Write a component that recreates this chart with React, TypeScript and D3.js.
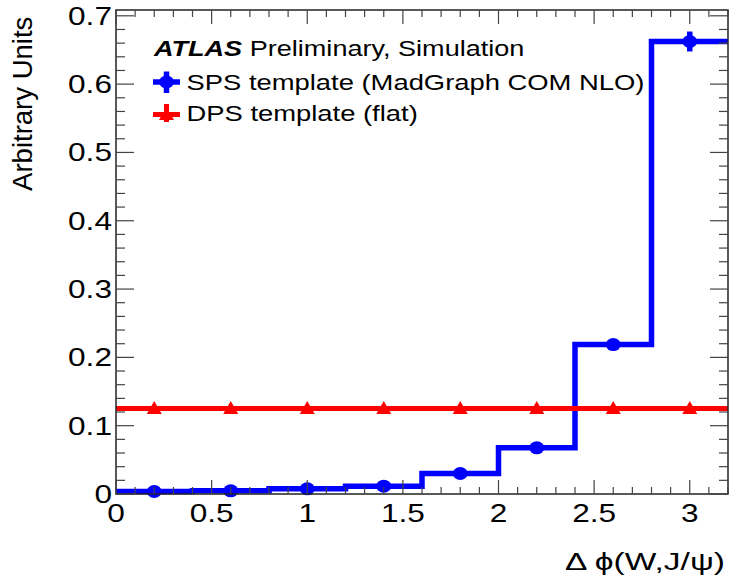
import React from "react";
import * as d3 from "d3";

const binCenters = [0.2, 0.6, 1.0, 1.4, 1.8, 2.2, 2.6, 3.0];
const binWidth = 0.4;
const spsValues = [0.0037, 0.0047, 0.0076, 0.0114, 0.03, 0.0676, 0.2187, 0.6624];
const spsErrors = [0.0005, 0.0006, 0.0008, 0.001, 0.002, 0.003, 0.006, 0.0146];
const dpsValues = [0.125, 0.125, 0.125, 0.125, 0.125, 0.125, 0.125, 0.125];
const xTickValues = [0, 0.5, 1, 1.5, 2, 2.5, 3];
const xTickLabels = ["0", "0.5", "1", "1.5", "2", "2.5", "3"];
const yTickValues = [0, 0.1, 0.2, 0.3, 0.4, 0.5, 0.6, 0.7];
const yTickLabels = ["0", "0.1", "0.2", "0.3", "0.4", "0.5", "0.6", "0.7"];
const xDomain = [0, 3.2];
const yDomain = [0, 0.7085];
const legendTitleBold = "ATLAS";
const legendTitleRest = "Preliminary, Simulation";
const legendSPS = "SPS template (MadGraph COM NLO)";
const legendDPS = "DPS template (flat)";
const xTitle = "\u0394 \u03d5(W,J/\u03c8)";
const yTitle = "Arbitrary Units";

const FONT = "'Liberation Sans', Arial, Helvetica, sans-serif";
const BLUE = "#0000ff";
const RED = "#ff0000";
const SX = 1.24;

function T(props: any) {
  const { x, y, anchor = "start", size = 22, sx = SX, rotate, children, ...rest } = props;
  const tr = `translate(${x},${y})${rotate ? ` rotate(${rotate})` : ""} scale(${sx},1)`;
  return (
    <text transform={tr} textAnchor={anchor} fontSize={size} fontFamily={FONT} fill="#000" {...rest}>
      {children}
    </text>
  );
}

export default function App() {
  const W = 729, H = 580;
  const x = d3.scaleLinear().domain(xDomain).range([116, 728]);
  const y = d3.scaleLinear().domain(yDomain).range([494, 10]);
  const [x0, x1] = x.range();
  const [y0, y1] = y.range();

  const stepPts: [number, number][] = binCenters.map((c, i) => [c - binWidth / 2, spsValues[i]]);
  stepPts.push([binCenters[binCenters.length - 1] + binWidth / 2, spsValues[spsValues.length - 1]]);
  const stepLine = d3.line<[number, number]>()
    .x(d => x(d[0]))
    .y(d => y(d[1]))
    .curve(d3.curveStepAfter);

  const dpsPts: [number, number][] = binCenters.map((c, i) => [c - binWidth / 2, dpsValues[i]]);
  dpsPts.push([binCenters[binCenters.length - 1] + binWidth / 2, dpsValues[dpsValues.length - 1]]);

  const xMinor = d3.range(0, 32.001, 1).map(v => v / 10);
  const yMinor = d3.range(0, 35.001, 1).map(v => v / 50).filter(v => v <= yDomain[1]);

  const tri = (cx: number, cy: number) =>
    `M${cx},${cy - 7.5} L${cx + 7.5},${cy + 5.5} L${cx - 7.5},${cy + 5.5} Z`;

  const tickColor = "#444";

  return (
    <svg width={W} height={H} style={{ position: "absolute", left: 0, top: 0, background: "#fff" }}>
      <rect x={0} y={0} width={W} height={H} fill="#fff" />

      {/* SPS histogram */}
      <path d={stepLine(stepPts) || ""} fill="none" stroke={BLUE} strokeWidth={5.5} strokeLinejoin="miter" />
      {binCenters.map((c, i) => (
        <line key={"e" + i} x1={x(c)} x2={x(c)} y1={y(spsValues[i] + spsErrors[i])} y2={y(spsValues[i] - spsErrors[i])}
          stroke={BLUE} strokeWidth={5.5} />
      ))}
      {binCenters.map((c, i) => (
        <ellipse key={"m" + i} cx={x(c)} cy={y(spsValues[i])} rx={7.5} ry={6.5} fill={BLUE} />
      ))}

      {/* DPS histogram */}
      <path d={stepLine(dpsPts) || ""} fill="none" stroke={RED} strokeWidth={5} />
      {binCenters.map((c, i) => (
        <path key={"t" + i} d={tri(x(c), y(dpsValues[i]))} fill={RED} />
      ))}

      {/* Frame */}
      <rect x={x0} y={y1} width={x1 - x0} height={y0 - y1} fill="none" stroke="#222" strokeWidth={1.5} />

      {/* X ticks */}
      {xMinor.map((v, i) => {
        const major = Math.abs(v * 2 - Math.round(v * 2)) < 1e-6;
        const L = major ? 14 : 7;
        return (
          <g key={"xt" + i}>
            <line x1={x(v)} x2={x(v)} y1={y0} y2={y0 - L} stroke={tickColor} strokeWidth={1.2} />
            <line x1={x(v)} x2={x(v)} y1={y1} y2={y1 + L} stroke={tickColor} strokeWidth={1.2} />
          </g>
        );
      })}
      {/* Y ticks */}
      {yMinor.map((v, i) => {
        const major = i % 5 === 0;
        const L = major ? 18 : 9;
        return (
          <g key={"yt" + i}>
            <line x1={x0} x2={x0 + L} y1={y(v)} y2={y(v)} stroke={tickColor} strokeWidth={1.2} />
            <line x1={x1} x2={x1 - L} y1={y(v)} y2={y(v)} stroke={tickColor} strokeWidth={1.2} />
          </g>
        );
      })}

      {/* Tick labels */}
      {xTickValues.map((v, i) => (
        <T key={"xl" + i} x={x(v)} y={522} anchor="middle" size={25.5}>{xTickLabels[i]}</T>
      ))}
      {yTickValues.map((v, i) => (
        <T key={"yl" + i} x={112} y={y(v) + 9} anchor="end" size={25.5}>{yTickLabels[i]}</T>
      ))}

      {/* Axis titles */}
      <text x={725} y={570} textAnchor="end" fontSize={23} fontFamily={FONT} textLength={160} lengthAdjust="spacingAndGlyphs">{xTitle}</text>
      <T x={32} y={16.7} anchor="end" size={27.5} sx={1.0} rotate={-90}>{yTitle}</T>

      {/* Legend */}
      <T x={154} y={56} size={22} sx={1.23}>
        <tspan fontWeight="bold" fontStyle="italic">{legendTitleBold}</tspan>
        <tspan> {legendTitleRest}</tspan>
      </T>
      <line x1={153} x2={180} y1={82} y2={82} stroke={BLUE} strokeWidth={5.5} />
      <line x1={166.5} x2={166.5} y1={71.5} y2={93} stroke={BLUE} strokeWidth={5.5} />
      <ellipse cx={166.5} cy={82} rx={7.5} ry={6.5} fill={BLUE} />
      <T x={186.5} y={90} size={22} sx={1.245}>{legendSPS}</T>

      <line x1={153} x2={180} y1={114.5} y2={114.5} stroke={RED} strokeWidth={5} />
      <line x1={166.5} x2={166.5} y1={104} y2={122} stroke={RED} strokeWidth={5} />
      <path d={tri(166.5, 114.5)} fill={RED} />
      <T x={186.5} y={121} size={22} sx={1.245}>{legendDPS}</T>
    </svg>
  );
}
